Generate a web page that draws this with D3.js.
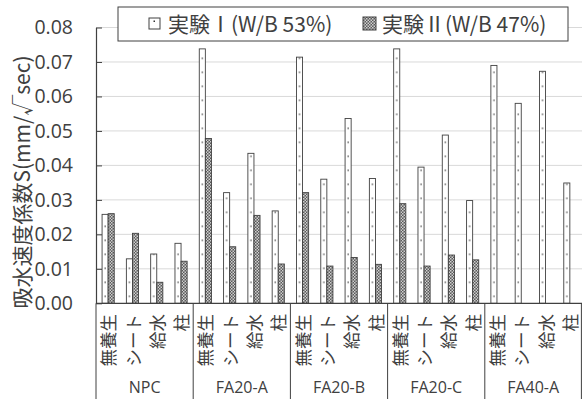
<!DOCTYPE html>
<html><head><meta charset="utf-8">
<script src="https://cdn.jsdelivr.net/npm/d3@7/dist/d3.min.js"></script>
<style>
html,body{margin:0;padding:0;background:#fff;}
svg{display:block;}
</style></head>
<body>
<svg id="chart" width="582" height="399"></svg>
<script>
const groups = ["NPC","FA20-A","FA20-B","FA20-C","FA40-A"];
const subcats = ["無養生","シート","給水","柱"];
const seriesNames = ["実験Ⅰ(W/B 53%)","実験Ⅱ(W/B 47%)"];
const series1 = [0.0258,0.0129,0.0143,0.0174, 0.0738,0.0321,0.0435,0.0268, 0.0714,0.0360,0.0536,0.0362, 0.0738,0.0395,0.0488,0.0298, 0.0690,0.0580,0.0673,0.0349];
const series2 = [0.0260,0.0203,0.0061,0.0122, 0.0478,0.0164,0.0255,0.0114, 0.0321,0.0108,0.0133,0.0113, 0.0289,0.0108,0.0140,0.0126, null,null,null,null];
const yTicks = [0,0.01,0.02,0.03,0.04,0.05,0.06,0.07,0.08];
const yTitle = "吸水速度係数S(mm/√sec)";

const svg = d3.select("#chart");
const mLeft = 96, mRight = 582, mTop = 27.5, mBottom = 303.3;
const ink = "#404040";
const jp = "'Noto Sans CJK JP', sans-serif";
const lat = "'Open Sans', 'Noto Sans CJK JP', sans-serif";

const slots = [];
groups.forEach((g,gi)=>subcats.forEach((s,si)=>slots.push({g,s,key:g+"|"+s,i:gi*4+si})));

const x0 = d3.scaleBand().domain(slots.map(d=>d.key)).range([mLeft,mRight]).padding(0);
const x1 = d3.scaleBand().domain(["I","II"]).range([0,x0.bandwidth()]).paddingInner(0).paddingOuter(1);
const y = d3.scaleLinear().domain([0,0.08]).range([mBottom,mTop]);

const defs = svg.append("defs");
const p1 = defs.append("pattern").attr("id","pat1").attr("patternUnits","userSpaceOnUse")
  .attr("x", mLeft + x1("I")).attr("y", mBottom).attr("width", x0.step()).attr("height", 14);
p1.append("rect").attr("width", x0.step()).attr("height",14).attr("fill","#fff");
p1.append("rect").attr("x", x1.bandwidth()/2-0.6).attr("y",6.4).attr("width",1.3).attr("height",1.3).attr("fill","#333");
const p2 = defs.append("pattern").attr("id","pat2").attr("patternUnits","userSpaceOnUse")
  .attr("width",3).attr("height",3);
p2.append("rect").attr("width",3).attr("height",3).attr("fill","#5a5a5a");
p2.append("rect").attr("width",1.5).attr("height",1.5).attr("fill","#d0d0d0");
p2.append("rect").attr("x",1.5).attr("y",1.5).attr("width",1.5).attr("height",1.5).attr("fill","#d0d0d0");

// gridlines
svg.append("g").selectAll("line").data(yTicks.filter(d=>d>0)).join("line")
  .attr("x1",mLeft).attr("x2",mRight).attr("y1",d=>y(d)).attr("y2",d=>y(d))
  .attr("stroke","#d9d9d9").attr("stroke-width",1);

// bars
const barData = [];
slots.forEach((s,i)=>{
  barData.push({slot:s, ser:"I", v:series1[i]});
  if (series2[i]!=null) barData.push({slot:s, ser:"II", v:series2[i]});
});
svg.append("g").selectAll("rect").data(barData).join("rect")
  .attr("x",d=>x0(d.slot.key)+x1(d.ser))
  .attr("width",x1.bandwidth())
  .attr("y",d=>y(d.v))
  .attr("height",d=>mBottom-y(d.v))
  .attr("fill",d=>d.ser==="I"?"url(#pat1)":"url(#pat2)")
  .attr("stroke",ink).attr("stroke-width",0.9);

// y axis
const yAxis = d3.axisLeft(y).tickValues(yTicks).tickFormat(d3.format(".2f")).tickSizeInner(-6).tickSizeOuter(0).tickPadding(23);
const ga = svg.append("g").attr("transform",`translate(${mLeft},0)`).call(yAxis);
ga.select(".domain").attr("stroke",ink).attr("stroke-width",1.2);
ga.selectAll(".tick line").attr("stroke",ink);
ga.selectAll("text").attr("fill",ink).attr("font-family",lat).attr("font-size",19.5);

// x axis baseline and separators
svg.append("line").attr("x1",mLeft).attr("x2",mRight).attr("y1",mBottom).attr("y2",mBottom).attr("stroke",ink).attr("stroke-width",1.2);
const gBounds = groups.map((g,gi)=>x0(g+"|"+subcats[0])).concat([mRight-0.6]);
svg.append("g").selectAll("line").data(gBounds).join("line")
  .attr("x1",d=>d).attr("x2",d=>d).attr("y1",mBottom).attr("y2",399)
  .attr("stroke",ink).attr("stroke-width",1);

// subcategory labels
svg.append("g").selectAll("text").data(slots).join("text")
  .attr("transform",d=>`translate(${x0(d.key)+x0.bandwidth()/2+1},314) rotate(-90)`)
  .attr("text-anchor","end").attr("dy","0.35em")
  .attr("font-family",jp).attr("font-size",17.5).attr("fill",ink)
  .text(d=>d.s);

// group labels
svg.append("g").selectAll("text").data(groups).join("text")
  .attr("x",(g,i)=>(gBounds[i]+gBounds[i+1])/2)
  .attr("y",387).attr("dy","0.35em").attr("text-anchor","middle")
  .attr("font-family",lat).attr("font-size",16).attr("fill",ink)
  .text(d=>d);

// y title
svg.append("text").attr("transform","translate(23,182) rotate(-90)")
  .attr("text-anchor","middle").attr("dy","0.35em")
  .attr("font-family",jp).attr("font-size",21).attr("fill",ink)
  .text(yTitle);

// legend
const lg = svg.append("g");
lg.append("rect").attr("x",118).attr("y",7).attr("width",450).attr("height",34)
  .attr("fill","#fff").attr("stroke",ink).attr("stroke-width",1);
const legItems = [{x:149,y:18,s:11,tx:168,fill:"#fff",name:seriesNames[0]},{x:363,y:17,s:13,tx:382,fill:"url(#pat2)",name:seriesNames[1]}];
legItems.forEach((it,i)=>{
  lg.append("rect").attr("x",it.x).attr("y",it.y).attr("width",it.s).attr("height",it.s)
    .attr("fill",it.fill).attr("stroke",ink).attr("stroke-width",1);
  if(i===0) lg.append("rect").attr("x",it.x+4.5).attr("y",it.y+2.5).attr("width",1.5).attr("height",1.5).attr("fill","#333");
  lg.append("text").attr("x",it.tx).attr("y",25).attr("dy","0.35em")
    .attr("font-family",jp).attr("font-size",21).attr("fill",ink).text(it.name);
});
</script>
</body></html>
